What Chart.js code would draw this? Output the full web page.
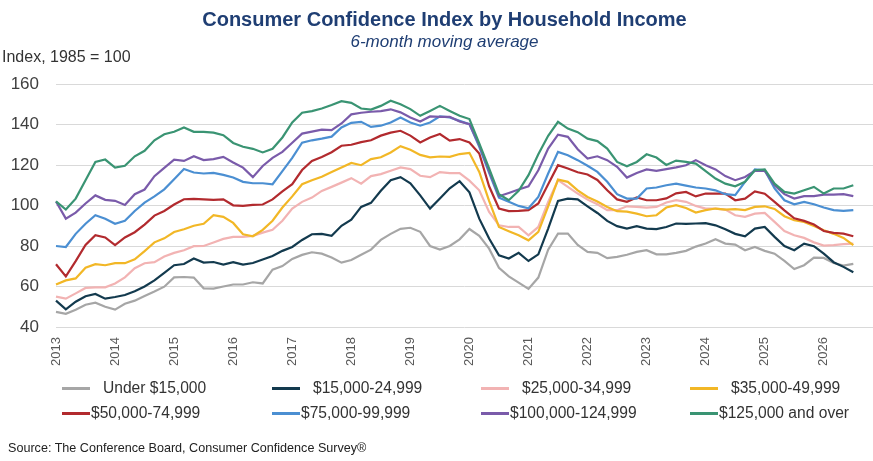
<!DOCTYPE html>
<html><head><meta charset="utf-8">
<script src="https://cdn.jsdelivr.net/npm/chart.js@4.4.1/dist/chart.umd.min.js"></script>
<style>
html,body{margin:0;padding:0;background:#fff;}
#wrap{position:relative;width:873px;height:461px;overflow:hidden;font-family:'Liberation Sans',Arial,sans-serif;}
#cv{position:absolute;left:0;top:0;width:873px;height:375px;}
#title{position:absolute;left:0;top:7px;width:889px;text-align:center;font-size:20px;font-weight:bold;color:#1F3E73;white-space:nowrap;line-height:24px;}
#subtitle{position:absolute;left:0;top:32px;width:889px;text-align:center;font-size:17px;font-style:italic;color:#1F3E73;white-space:nowrap;line-height:20px;}
#ylab{position:absolute;left:2px;top:47px;font-size:16px;color:#333;white-space:nowrap;line-height:20px;}
#legend{position:absolute;left:0;top:0;width:873px;height:461px;pointer-events:none;}
.li{position:absolute;height:20px;display:flex;align-items:center;font-size:15.6px;color:#333;white-space:nowrap;}
.sw{display:inline-block;width:28px;height:3px;}
#src{position:absolute;left:8px;top:441px;font-size:12.6px;color:#222;white-space:nowrap;}
</style></head><body>
<div id="wrap">
 <div id="cv"><canvas id="c"></canvas></div>
 <div id="title">Consumer Confidence Index by Household Income</div>
 <div id="subtitle">6-month moving average</div>
 <div id="ylab">Index, 1985 = 100</div>
 <div id="legend"></div>
 <div id="src">Source: The Conference Board, Consumer Confidence Survey®</div>
</div>
<script>
// Tick labels (years) and bi-monthly categories
const years = ['2013','2014','2015','2016','2017','2018','2019','2020','2021','2022','2023','2024','2025','2026'];
const monthNames = ['Jan','Mar','May','Jul','Sep','Nov'];
const periods = [];
years.forEach(y => monthNames.forEach(m => periods.push(m + ' ' + y)));

const seriesNames = ['Under $15,000','$15,000-24,999','$25,000-34,999','$35,000-49,999',
                     '$50,000-74,999','$75,000-99,999','$100,000-124,999','$125,000 and over'];

const under15k = [47.5,46.5,48.5,51,52,50,48.6,51.5,53,55.3,57.5,59.9,64.5,64.7,64.4,59.1,59,60,61,61,62.1,61.5,
  68.3,70.1,73.6,75.6,76.9,76.2,74.3,71.8,73.1,75.7,78.2,83,86,88.5,89,87,80,78.2,80,83.3,
  88.4,85,78.7,69.2,65,61.9,58.8,64.4,78.2,86.1,86.1,80.5,77.1,76.6,74,74.6,75.7,77.1,77.9,75.9,75.9,76.6,
  77.6,79.7,81.2,83.3,81.2,80.7,77.9,79.5,77.6,76.2,72.6,68.6,70.5,74.3,74.1,71.6,70.3,71.2];
const inc15to25k = [53,48.7,52.5,55.2,56.3,54,54.8,55.8,57.6,60,63,66.7,70.5,71.1,73.8,71.8,72.1,70.8,72,70.8,71.6,73.3,
  75.1,77.6,79.5,83,85.8,86,85,90,93,99.3,101.3,107.3,112.5,114,111,105,98.5,103.5,108.5,112,
  106.5,93.5,83.7,75.4,73.8,76.6,72.6,75.9,88.6,102.3,103.4,103,99.6,96.3,92.4,89.8,88.6,89.8,88.6,88.3,89.4,91.1,
  90.9,91.1,91.3,90.2,88.3,86,84.8,88.6,89.4,84.5,80,77.9,81.2,79.9,76.2,72,69.7,67];
const inc25to35k = [55,54,56.6,59.3,59.6,59.6,61.5,64.5,69,71.5,72,74.8,76.6,77.9,79.9,80,81.7,83.5,84.5,84.5,85,86.6,
  88,92.5,98.5,101.8,103.9,107.2,109.2,111.3,113.5,110.8,114.5,115.5,117.2,118.8,118,114.7,114,116.5,116,116,
  112.3,107.5,96.8,90.2,89.4,89.4,85.3,89.4,101.8,112.5,109.2,105.9,102.9,100.6,97.7,97.7,99.6,99.3,99,99.3,101.5,102.6,
  101.8,99.8,98.5,98.5,98,95.2,94.4,96,96.3,91.9,87.4,85.3,84,81.8,80.2,80.4,80.9,81.2];
const inc35to50k = [61,63,64,69.3,71,70.5,71.5,71.5,73.4,77.5,81.8,83.8,86.9,88.3,90,91,95.2,94.4,91.4,85.8,84.8,88,
  92.5,99,104.5,110.5,112.5,114.2,116.5,118.8,121,119.9,122.9,123.8,126.2,129.3,127.5,125,123.8,124.2,124,125.4,
  126,116.6,102.3,89.4,87.3,85.3,82.8,87,99.6,112.8,111.7,107.5,104.2,102,99.3,97.2,97,96,94.7,95.2,99,100.2,
  98.8,96.5,97.7,98.5,98,98.2,97.7,99.3,99.6,98.3,94.7,92.7,91.9,89.9,87.8,86,84,80.4];
const inc50to75k = [71,65,72.5,80.5,85.3,84.2,80.4,84.2,86.8,90.6,95,97.3,100.5,103.1,103.3,103,102.8,103,100.1,99.8,100.3,100.5,
  103,107,110.5,117.5,122,124,126.3,129.5,130,131.3,132.2,134.5,136,136.9,134.5,131.1,133.6,135.3,132,132.8,
  131.1,125.7,109.5,98.5,97.2,97.3,97.7,101,110.5,119.9,118.3,116.4,115.3,112.6,107.5,103,101.8,104,102.6,102.6,103.5,106,
  106.7,104.5,105.9,105.9,105.9,102.6,103.4,107,105.8,101.8,97.6,93.7,92.4,90.6,87.4,86.5,86.1,84.8];
const inc75to100k = [80,79.5,86,91,95.2,93.5,91,92.4,97.3,101.4,104.5,108,113,118,116.3,115.8,116.1,115.1,113.8,111.7,111,111,
  110.5,117,123.5,131,132.2,133,134,138.5,140.8,141.3,138.8,139.4,141,143.5,141,139.4,141,144,143.5,141.8,
  140.2,129,116.1,103.9,101.8,99.8,98.6,104.2,115.8,126.5,124.8,122.4,119.6,116.6,111.7,105.6,103.4,103.4,108.4,108.9,110,110.8,
  109.8,108.9,108.4,107.5,105.6,105.1,111.7,117.8,117.4,108.4,102.6,100.6,101.8,100.6,99,97.7,97.3,97.7];
const inc100to125k = [102,93.5,96.5,101,105,102.8,102.3,100.3,105.6,107.9,114.5,118.6,122.6,122,124.3,122.4,122.9,124,121.2,118.7,114,119.5,
  123.5,126.5,131,135.5,136.5,137.5,137.2,140.5,145,145.8,146.3,146.6,147.5,146,143.5,141.5,144,143.8,143.8,141.5,
  140.2,129.8,117.1,104.6,106.2,107.9,109.5,117.4,128.1,135,133.9,127.8,123.2,124.3,122.4,119.1,113.8,116.1,117.8,117.1,118,118.8,
  119.9,122.4,119.9,117.8,114.5,112.5,114.1,117.1,117.1,110,105.6,103.4,104.6,104.6,105.4,105.4,105.6,104.6];
const over125k = [102,98,103.4,112.5,121.5,122.7,118.7,119.6,124.3,127,132.2,135.2,136.4,138.5,136.4,136.4,136,134.7,130.9,129,128,126.2,
  128,133.6,141,145.8,146.6,147.9,149.6,151.5,150.7,147.9,147.4,149.2,151.7,150,147.6,144.3,146.7,149.2,146.7,144.3,
  142.7,130.6,118.3,105.6,102.6,107.2,115,125.3,134.4,141.3,138,136.2,133,131.8,128.1,121.5,119.4,121.5,125.3,123.7,120,122.2,
  121.5,120.7,117,113.3,110.8,109.5,111.7,117.4,117.8,110.8,106.7,105.9,107.5,109.2,105.9,108.4,108.4,110];

const seriesValues = [under15k, inc15to25k, inc25to35k, inc35to50k, inc50to75k, inc75to100k, inc100to125k, over125k];
const colors = ['#A6A6A6','#133A4E','#F2B3B3','#F2B726','#B22A2E','#4B8FD2','#7A5BAA','#3A9473'];

Chart.defaults.font.family = "'Liberation Sans', Arial, sans-serif";

new Chart(document.getElementById('c'), {
  type: 'line',
  data: {
    labels: periods,
    datasets: seriesNames.map((n, i) => ({
      label: n, data: seriesValues[i], borderColor: colors[i], backgroundColor: colors[i],
      borderWidth: 2.2, pointRadius: 0, tension: 0, fill: false, order: 7 - i
    }))
  },
  options: {
    responsive: true, maintainAspectRatio: false, animation: false,
    layout: { padding: { left: 0, right: 0, top: 84, bottom: 0 } },
    plugins: {
      legend: { display: false },
      tooltip: { enabled: false }
    },
    scales: {
      x: {
        type: 'category', offset: false,
        grid: { display: false, drawTicks: false }, border: { display: false },
        ticks: {
          autoSkip: false, minRotation: 90, maxRotation: 90, padding: 10, color: '#595959', font: { size: 13 },
          callback: function (v) { const l = this.getLabelForValue(v); return l.startsWith('Jan') ? l.slice(4) : ''; }
        },
        afterFit: s => { s.height = 48; s.paddingRight = 0; s.paddingLeft = 0; }
      },
      y: {
        min: 40, max: 160,
        ticks: { stepSize: 20, padding: 17, color: '#404040', font: { size: 17 } },
        grid: { color: '#D9D9D9', drawTicks: false, lineWidth: 1 }, border: { display: false },
        afterFit: s => { s.width = 56; }
      }
    }
  }
});

// HTML legend built from the datasets
const lefts = [62, 272, 481, 690];
const legend = document.getElementById('legend');
seriesNames.forEach((n, i) => {
  const row = i < 4 ? 0 : 1, col = i % 4;
  const d = document.createElement('div');
  d.className = 'li';
  d.style.left = lefts[col] + 'px';
  d.style.top = (row ? 403 : 378) + 'px';
  const sw = document.createElement('span');
  sw.className = 'sw';
  sw.style.background = colors[i];
  sw.style.marginRight = (row ? 1 : 13) + 'px';
  d.appendChild(sw);
  d.appendChild(document.createTextNode(n));
  legend.appendChild(d);
});
</script>
</body></html>
